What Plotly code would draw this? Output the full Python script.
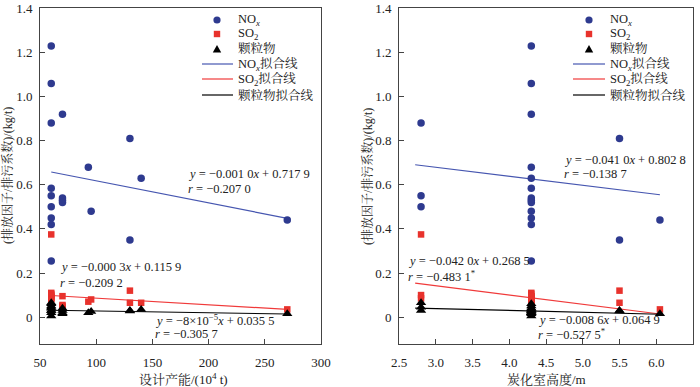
import plotly.graph_objects as go

W, H = 700, 387

# ---------------- data ----------------
capacity = [60, 60, 60, 60, 60, 60, 60, 60, 60, 70, 70, 70, 70, 93, 95.5, 140, 130, 130, 270]
height = [2.8, 2.8, 2.8, 4.3, 4.3, 4.3, 4.3, 4.3, 4.3, 4.3, 4.3, 4.3, 4.3, 4.3, 4.3, 4.3, 5.5, 5.5, 6.05]
nox = [0.88, 0.55, 0.50, 1.23, 1.06, 0.585, 0.45, 0.42, 0.255, 0.92, 0.54, 0.53, 0.52, 0.68, 0.48, 0.63, 0.81, 0.35, 0.44]
so2 = [0.375, 0.100, 0.085, 0.110, 0.105, 0.095, 0.090, 0.085, 0.080, 0.095, 0.055, 0.050, 0.045, 0.070, 0.080, 0.065, 0.120, 0.065, 0.035]
pm = [0.065, 0.045, 0.030, 0.060, 0.050, 0.040, 0.030, 0.020, 0.005, 0.040, 0.030, 0.020, 0.015, 0.020, 0.025, 0.035, 0.030, 0.028, 0.015]

# fitted lines (end points)
fit_x_left = [60, 270]
fit_nox_left = [0.658, 0.448]
fit_so2_left = [0.098, 0.035]
fit_pm_left = [0.031, 0.014]
fit_x_right = [2.72, 6.05]
fit_nox_right = [0.691, 0.555]
fit_so2_right = [0.154, 0.014]
fit_pm_right = [0.041, 0.013]

y_ticks = [0, 0.2, 0.4, 0.6, 0.8, 1.0, 1.2, 1.4]
y_ticktext = ["0", "0.2", "0.4", "0.6", "0.8", "1.0", "1.2", "1.4"]
x1_ticks = [50, 100, 150, 200, 250, 300]
x1_ticktext = ["50", "100", "150", "200", "250", "300"]
x2_ticks = [2.5, 3.0, 3.5, 4.0, 4.5, 5.0, 5.5, 6.0, 6.5]
x2_ticktext = ["2.5", "3.0", "3.5", "4.0", "4.5", "5.0", "5.5", "6.0", "6.5"]

legend_labels = ["NO<sub><i>x</i></sub>", "SO<sub>2</sub>", "颗粒物",
                 "NO<sub><i>x</i></sub>拟合线", "SO<sub>2</sub>拟合线", "颗粒物拟合线"]

eq_left = [
    ("<i>y</i> = −0.001 0<i>x</i> + 0.717 9", "<i>r</i> = −0.207 0"),
    ("<i>y</i> = −0.000 3<i>x</i> + 0.115 9", "<i>r</i> = −0.209 2"),
    ("<i>y</i> = −8×10<sup>−5</sup><i>x</i> + 0.035 5", "<i>r</i> = −0.305 7"),
]
eq_right = [
    ("<i>y</i> = −0.041 0<i>x</i> + 0.802 8", "<i>r</i> = −0.138 7"),
    ("<i>y</i> = −0.042 0<i>x</i> + 0.268 5", "<i>r</i> = −0.483 1<sup>*</sup>"),
    ("<i>y</i> = −0.008 6<i>x</i> + 0.064 9", "<i>r</i> = −0.527 5<sup>*</sup>"),
]

# ---------------- styling ----------------
FONT = "Liberation Serif, 'Noto Serif CJK SC', 'Noto Sans CJK SC', serif"
C_NOX = "#2e3a8f"
C_SO2 = "#e8322c"
C_PM = "#000000"
C_NOX_L = "#4656b0"
C_SO2_L = "#f03a3a"
AXC = "#444444"


def px(x):
    return x / W


def py(y):
    return 1 - y / H


fig = go.Figure()

for xs, xa, ya, fx, fn, fs, fp in [
    (capacity, "x", "y", fit_x_left, fit_nox_left, fit_so2_left, fit_pm_left),
    (height, "x2", "y2", fit_x_right, fit_nox_right, fit_so2_right, fit_pm_right),
]:
    fig.add_trace(go.Scatter(x=fx, y=fn, mode="lines", line=dict(color=C_NOX_L, width=1.2),
                             xaxis=xa, yaxis=ya, showlegend=False))
    fig.add_trace(go.Scatter(x=fx, y=fs, mode="lines", line=dict(color=C_SO2_L, width=1.2),
                             xaxis=xa, yaxis=ya, showlegend=False))
    fig.add_trace(go.Scatter(x=fx, y=fp, mode="lines", line=dict(color=C_PM, width=1.2),
                             xaxis=xa, yaxis=ya, showlegend=False))
    fig.add_trace(go.Scatter(x=xs, y=nox, mode="markers",
                             marker=dict(symbol="circle", size=7.5, color=C_NOX),
                             xaxis=xa, yaxis=ya, showlegend=False))
    fig.add_trace(go.Scatter(x=xs, y=so2, mode="markers",
                             marker=dict(symbol="square", size=6.5, color=C_SO2),
                             xaxis=xa, yaxis=ya, showlegend=False))
    fig.add_trace(go.Scatter(x=xs, y=pm, mode="markers",
                             marker=dict(symbol="triangle-up", size=9, color=C_PM),
                             xaxis=xa, yaxis=ya, showlegend=False))

TOP, BOT = 8, 344
ax_common = dict(showgrid=False, zeroline=False, showline=True, linecolor=AXC, linewidth=1,
                 mirror=True, ticks="inside", ticklen=5, tickcolor=AXC, tickwidth=1,
                 automargin=False,
                 tickfont=dict(family=FONT, size=13, color="#222"))

fig.update_layout(
    width=W, height=H, margin=dict(l=0, r=0, t=0, b=0),
    paper_bgcolor="white", plot_bgcolor="white", showlegend=False,
    font=dict(family=FONT, size=13, color="#222"),
    xaxis=dict(domain=[px(40), px(321)], range=[50, 300], tickvals=x1_ticks, ticktext=x1_ticktext,
               ticklabelstandoff=6, anchor="y", **ax_common),
    yaxis=dict(domain=[py(BOT), py(TOP)], range=[-0.122, 1.402], tickvals=y_ticks, ticktext=y_ticktext,
               ticklabelstandoff=4, anchor="x", **ax_common),
    xaxis2=dict(domain=[px(399), px(693)], range=[2.5, 6.5], tickvals=x2_ticks, ticktext=x2_ticktext,
                ticklabelstandoff=6, anchor="y2", **ax_common),
    yaxis2=dict(domain=[py(BOT), py(TOP)], range=[-0.122, 1.402], tickvals=y_ticks, ticktext=y_ticktext,
                ticklabelstandoff=4, anchor="x2", **ax_common),
)

ann = []
shapes = []


def text(x, y, t, size=13, anchor="left", angle=0):
    ann.append(dict(x=px(x), y=py(y), xref="paper", yref="paper", text=t, showarrow=False,
                    xanchor=anchor, yanchor="middle", textangle=angle,
                    font=dict(family=FONT, size=size, color="#222")))


# axis titles
ytitle = "(排放因子/排污系数)/(kg/t)"
text(7, 176, ytitle, size=12, anchor="center", angle=-90)
text(367, 176, ytitle, size=12, anchor="center", angle=-90)
text(183, 379, "设计产能/(10<sup>4</sup> t)", size=13, anchor="center")
text(546, 379, "炭化室高度/m", size=13, anchor="center")

# equations
eq_pos_left = [(186, 174, 189), (58, 267, 283), (153, 320, 334)]
eq_pos_right = [(562, 160, 174), (406, 261, 276), (536, 320, 334)]
for (e, r), (x, y1, y2) in zip(eq_left + eq_right, eq_pos_left + eq_pos_right):
    text(x, y1, e, size=12.5)
    text(x, y2, r, size=12.5)

# manual legends
rows = [20, 34, 49, 64, 79, 95]
for cx, tx, lx0, lx1 in [(217, 236, 202, 233), (589, 608, 573, 605)]:
    for lab, ry in zip(legend_labels, rows):
        text(tx, ry, lab, size=12.5)
    r = 3.6
    shapes.append(dict(type="circle", xref="paper", yref="paper", x0=px(cx - r), x1=px(cx + r),
                       y0=py(rows[0] + r), y1=py(rows[0] - r), fillcolor=C_NOX, line=dict(width=0)))
    s = 3.2
    shapes.append(dict(type="rect", xref="paper", yref="paper", x0=px(cx - s), x1=px(cx + s),
                       y0=py(rows[1] + s), y1=py(rows[1] - s), fillcolor=C_SO2, line=dict(width=0)))
    t = 4.2
    shapes.append(dict(type="path", xref="paper", yref="paper",
                       path=f"M {px(cx - t)} {py(rows[2] + 3.6)} L {px(cx + t)} {py(rows[2] + 3.6)} L {px(cx)} {py(rows[2] - 4)} Z",
                       fillcolor=C_PM, line=dict(width=0)))
    for col, ry in zip([C_NOX_L, C_SO2_L, C_PM], rows[3:]):
        shapes.append(dict(type="line", xref="paper", yref="paper", x0=px(lx0), x1=px(lx1),
                           y0=py(ry), y1=py(ry), line=dict(color=col, width=1.2)))

fig.update_layout(annotations=ann, shapes=shapes)
fig.write_html("out.html", config={"displayModeBar": False},
               post_script="document.body.style.margin='0';document.body.style.overflow='hidden';")
